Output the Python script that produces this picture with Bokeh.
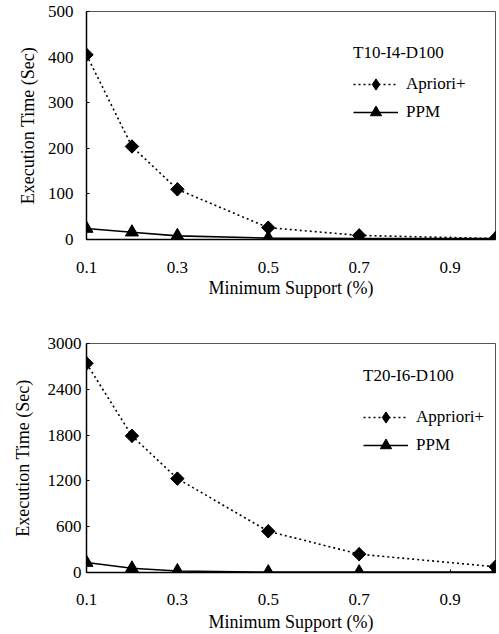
import math
from bokeh.plotting import figure
from bokeh.layouts import column
from bokeh.models import Legend, LegendItem, Range1d, FixedTicker, ColumnDataSource
from bokeh.embed import file_html
from bokeh.resources import INLINE

# ---- data ----
support = [0.1, 0.2, 0.3, 0.5, 0.7, 1.0]
x_ticks = [0.1, 0.3, 0.5, 0.7, 0.9]

t10_title = "T10-I4-D100"
t10_apriori = [405, 204, 110, 26, 9, 2]
t10_ppm = [24, 16, 8, 3, 2, 2]
t10_yticks = [0, 100, 200, 300, 400, 500]

t20_title = "T20-I6-D100"
t20_apriori = [2740, 1790, 1230, 540, 240, 75]
t20_ppm = [130, 55, 20, 5, 5, 5]
t20_yticks = [0, 600, 1200, 1800, 2400, 3000]

FONT = "Times New Roman, Liberation Serif, serif"


def make_chart(title, apr_label, apr, ppm, yticks, width, height, borders,
               y_std, y_lbl_std, x_std, x_lbl_std, legend_loc, title_std):
    left, right, top, bottom = borders
    p = figure(width=width, height=height, output_backend="svg",
               toolbar_location=None,
               x_range=Range1d(0.1, 1.0), y_range=Range1d(yticks[0], yticks[-1]),
               min_border_left=left, min_border_right=right,
               min_border_top=top, min_border_bottom=bottom)
    p.background_fill_color = "white"
    p.border_fill_color = "white"
    p.outline_line_color = "#555555"
    p.outline_line_width = 1
    p.xgrid.visible = False
    p.ygrid.visible = False

    for ax in (p.xaxis[0], p.yaxis[0]):
        ax.major_label_text_font = FONT
        ax.major_label_text_font_size = "17px"
        ax.major_label_text_color = "black"
        ax.axis_label_text_font = FONT
        ax.axis_label_text_font_size = "18px"
        ax.axis_label_text_font_style = "normal"
        ax.axis_label_text_color = "black"
        ax.axis_line_color = "black"
        ax.axis_line_width = 1.5
        ax.major_tick_out = 0
        ax.major_tick_in = 3
        ax.major_tick_line_color = "black"
        ax.minor_tick_line_color = None

    p.xaxis[0].ticker = FixedTicker(ticks=x_ticks)
    p.yaxis[0].ticker = FixedTicker(ticks=yticks)
    p.xaxis[0].axis_label = "Minimum Support (%)"
    p.yaxis[0].axis_label = "Execution Time (Sec)"
    p.xaxis[0].major_label_standoff = x_std
    p.xaxis[0].axis_label_standoff = x_lbl_std
    p.yaxis[0].major_label_standoff = y_std
    p.yaxis[0].axis_label_standoff = y_lbl_std

    src = ColumnDataSource(dict(x=support, apr=apr, ppm=ppm))
    l1 = p.line("x", "apr", source=src, line_color="black", line_width=1.6,
                line_dash="2 3")
    # diamond marker used by the legend (hidden inside the rotated squares)
    s1 = p.scatter("x", "apr", source=src, marker="diamond", size=13,
                   fill_color="black", line_color="black")
    p.scatter("x", "apr", source=src, marker="square", angle=math.pi / 4, size=9.5,
              fill_color="black", line_color="black")
    l2 = p.line("x", "ppm", source=src, line_color="black", line_width=1.6)
    s2 = p.scatter("x", "ppm", source=src, marker="triangle", size=13,
                   fill_color="black", line_color="black")

    legend = Legend(items=[LegendItem(label=apr_label, renderers=[l1, s1]),
                           LegendItem(label="PPM", renderers=[l2, s2])],
                    location=legend_loc, title=title)
    legend.title_text_font = FONT
    legend.title_text_font_size = "17px"
    legend.title_text_font_style = "normal"
    legend.title_text_color = "black"
    legend.title_standoff = title_std
    legend.label_text_font = FONT
    legend.label_text_font_size = "17px"
    legend.label_text_color = "black"
    legend.glyph_width = 45
    legend.glyph_height = 28
    legend.label_height = 28
    legend.label_standoff = 8
    legend.spacing = 0
    legend.padding = 0
    legend.margin = 0
    legend.border_line_color = None
    legend.background_fill_alpha = 0
    p.add_layout(legend)
    return p


p1 = make_chart(t10_title, "Apriori+", t10_apriori, t10_ppm, t10_yticks,
                width=499, height=305, borders=(80, 4, 11, 66),
                y_std=13, y_lbl_std=7, x_std=22, x_lbl_std=2,
                legend_loc=(267, 113), title_std=7)
p2 = make_chart(t20_title, "Appriori+", t20_apriori, t20_ppm, t20_yticks,
                width=499, height=329, borders=(86, 0, 38, 62),
                y_std=5, y_lbl_std=12, x_std=21, x_lbl_std=4,
                legend_loc=(277, 113), title_std=17)

layout = column(p1, p2, spacing=0)

open("out.html", "w").write(file_html(layout, INLINE))
